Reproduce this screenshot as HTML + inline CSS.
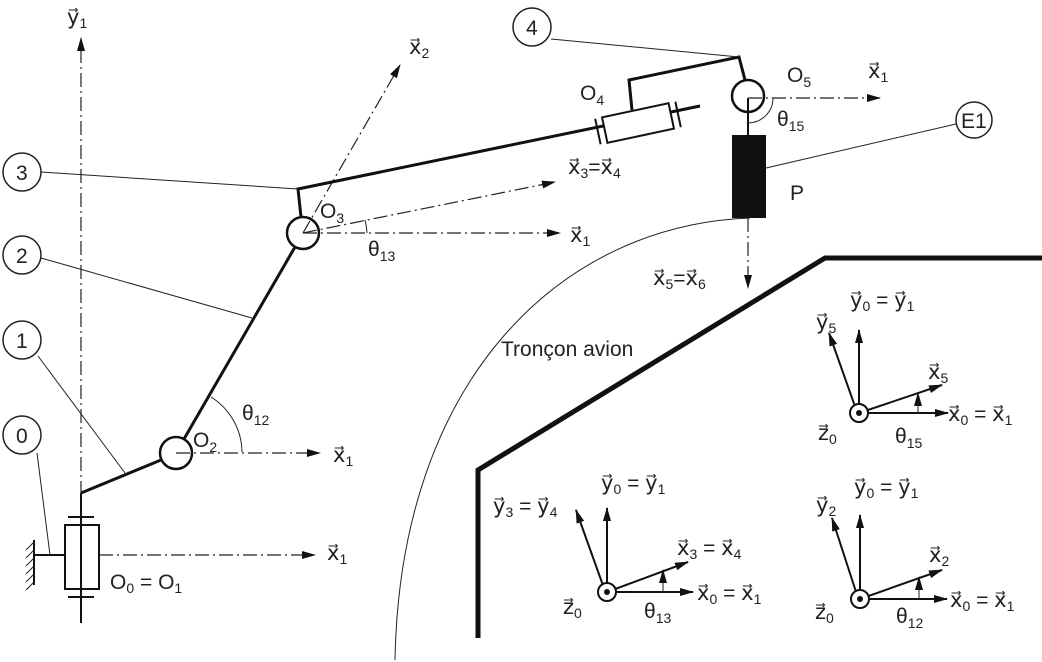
<!DOCTYPE html>
<html><head><meta charset="utf-8"><style>
html,body{margin:0;padding:0;background:#fff;}
svg{display:block;}
text{font-family:"Liberation Sans","DejaVu Sans",sans-serif;font-size:21px;fill:#222;}
.s{font-size:14px;}
.thin{stroke:#222;stroke-width:1;fill:none;}
.thick{stroke:#111;stroke-width:3;fill:none;}
.med{stroke:#111;stroke-width:2;fill:none;}
.dd{stroke:#222;stroke-width:1.2;fill:none;stroke-dasharray:14 4 2 4;}
</style></head><body>
<svg width="1042" height="662" viewBox="0 0 1042 662">
<defs>
<marker id="ar" markerWidth="14" markerHeight="8" refX="13" refY="4" orient="auto" markerUnits="userSpaceOnUse"><path d="M0,0 L14,4 L0,8 Z" fill="#111"/></marker>
</defs>

<g>
<line class="dd" x1="81" y1="495" x2="81" y2="38" marker-end="url(#ar)"/>
<text x="67" y="24">y⃗<tspan class="s" dy="4">1</tspan></text>
</g>

<g>
<rect x="65" y="525" width="34" height="64" class="med"/>
<line class="med" x1="81" y1="493" x2="81" y2="623"/>
<line class="med" x1="68" y1="517" x2="94" y2="517"/>
<line class="med" x1="68" y1="597" x2="94" y2="597"/>
<line class="med" x1="35" y1="555" x2="65" y2="555"/>
<line class="med" x1="34" y1="540" x2="34" y2="585"/>
<path class="thin" d="M34,542 l-8,8 M34,550 l-8,8 M34,558 l-8,8 M34,566 l-8,8 M34,574 l-8,8 M34,582 l-8,8" stroke-width="2"/>
<line class="dd" x1="99" y1="555" x2="315" y2="555" marker-end="url(#ar)"/>
<text x="327" y="560">x⃗<tspan class="s" dy="4">1</tspan></text>
<text x="110" y="589">O<tspan class="s" dy="4">0</tspan><tspan dy="-4"> = O</tspan><tspan class="s" dy="4">1</tspan></text>
</g>

<g>
<polyline class="thick" points="81,493 161,460"/>
<circle cx="176" cy="453" r="16" fill="#fff" stroke="#111" stroke-width="2.5"/>
<line class="dd" x1="176" y1="453" x2="320" y2="453" marker-end="url(#ar)"/>
<text x="333" y="462">x⃗<tspan class="s" dy="4">1</tspan></text>
<text x="193" y="447">O<tspan class="s" dy="5">2</tspan></text>
<path class="thin" d="M242,452 A66,66 0 0 0 211,397"/>
<text x="242" y="420">θ<tspan class="s" dy="5">12</tspan></text>
</g>

<g>
<line class="thick" x1="184" y1="439" x2="295" y2="247"/>
<circle cx="303" cy="233" r="16" fill="#fff" stroke="#111" stroke-width="2.5"/>
<line class="dd" x1="303" y1="233" x2="560" y2="233" marker-end="url(#ar)"/>
<text x="570" y="242">x⃗<tspan class="s" dy="4">1</tspan></text>
<line class="dd" x1="303" y1="233" x2="555" y2="182" marker-end="url(#ar)"/>
<line class="dd" x1="303" y1="233" x2="400" y2="65" marker-end="url(#ar)"/>
<text x="409" y="54">x⃗<tspan class="s" dy="4">2</tspan></text>
<text x="320" y="218">O<tspan class="s" dy="5">3</tspan></text>
<path class="thin" d="M367,233 A64,64 0 0 0 365,220"/>
<text x="368" y="256">θ<tspan class="s" dy="5">13</tspan></text>
</g>

<g>
<polyline class="thick" points="301,217 298,189 700,106"/>
<text x="568" y="174">x⃗<tspan class="s" dy="4">3</tspan><tspan dy="-4">=x⃗</tspan><tspan class="s" dy="4">4</tspan></text>
</g>

<g>
<g transform="translate(638,123) rotate(-12)">
<rect x="-34" y="-13" width="68" height="26" fill="#fff" stroke="#111" stroke-width="2"/>
<line class="med" x1="-41" y1="-13" x2="-41" y2="13"/>
<line class="med" x1="41" y1="-13" x2="41" y2="13"/>
</g>
<polyline class="thick" points="632,110 629,80 739,57 745,80"/>
<text x="580" y="100">O<tspan class="s" dy="5">4</tspan></text>
</g>

<g>
<circle cx="748" cy="96" r="16" fill="#fff" stroke="#111" stroke-width="2.5"/>
<line class="med" x1="748" y1="98" x2="748" y2="135"/>
<line class="dd" x1="748" y1="98" x2="880" y2="98" marker-end="url(#ar)"/>
<text x="868" y="78">x⃗<tspan class="s" dy="4">1</tspan></text>
<text x="787" y="82">O<tspan class="s" dy="5">5</tspan></text>
<path class="thin" d="M773,98 A25,25 0 0 1 748,123"/>
<text x="777" y="126">θ<tspan class="s" dy="5">15</tspan></text>
<rect x="732" y="135" width="34" height="83" fill="#111"/>
<text x="790" y="200">P</text>
<line class="dd" x1="748" y1="218" x2="748" y2="288" marker-end="url(#ar)"/>
<text x="653" y="285">x⃗<tspan class="s" dy="4">5</tspan><tspan dy="-4">=x⃗</tspan><tspan class="s" dy="4">6</tspan></text>
</g>

<g>
<circle cx="22" cy="172" r="19" fill="#fff" stroke="#222" stroke-width="1.5"/><text x="16" y="180">3</text>
<line class="thin" x1="41" y1="172" x2="298" y2="189"/>
<circle cx="22" cy="255" r="19" fill="#fff" stroke="#222" stroke-width="1.5"/><text x="16" y="263">2</text>
<line class="thin" x1="41" y1="258" x2="252" y2="318"/>
<circle cx="22" cy="340" r="19" fill="#fff" stroke="#222" stroke-width="1.5"/><text x="16" y="348">1</text>
<line class="thin" x1="38" y1="356" x2="125" y2="473"/>
<circle cx="22" cy="435" r="19" fill="#fff" stroke="#222" stroke-width="1.5"/><text x="16" y="443">0</text>
<line class="thin" x1="37" y1="453" x2="50" y2="555"/>
<circle cx="532" cy="27" r="19" fill="#fff" stroke="#222" stroke-width="1.5"/><text x="526" y="35">4</text>
<line class="thin" x1="551" y1="39" x2="739" y2="57"/>
<circle cx="974" cy="120" r="18" fill="#fff" stroke="#222" stroke-width="1.5"/><text x="961" y="128">E1</text>
<line class="thin" x1="766" y1="168" x2="956" y2="124"/>
</g>

<g>
<path class="thin" d="M750,218 C560,225 400,380 395,660"/>
<text x="501" y="356">Tronçon avion</text>
<polyline points="1042,258 825,258 478,470 478,638" fill="none" stroke="#111" stroke-width="5"/>
</g>

<g>
<line class="med" x1="859" y1="413" x2="859" y2="330" marker-end="url(#ar)"/>
<line class="med" x1="857" y1="412" x2="829" y2="333" marker-end="url(#ar)"/>
<line class="med" x1="859" y1="413" x2="942" y2="385" marker-end="url(#ar)"/>
<line class="med" x1="859" y1="413" x2="948" y2="413" marker-end="url(#ar)"/>
<line class="thin" x1="918" y1="413" x2="918" y2="393" marker-end="url(#ar)"/>
<circle cx="859" cy="413" r="9" fill="#fff" stroke="#111" stroke-width="2"/><circle cx="859" cy="413" r="3" fill="#111"/>
<text x="850" y="307">y⃗<tspan class="s" dy="4">0</tspan><tspan dy="-4"> = y⃗</tspan><tspan class="s" dy="4">1</tspan></text>
<text x="816" y="329">y⃗<tspan class="s" dy="4">5</tspan></text>
<text x="928" y="379">x⃗<tspan class="s" dy="4">5</tspan></text>
<text x="948" y="421">x⃗<tspan class="s" dy="4">0</tspan><tspan dy="-4"> = x⃗</tspan><tspan class="s" dy="4">1</tspan></text>
<text x="818" y="440">z⃗<tspan class="s" dy="4">0</tspan></text>
<text x="895" y="443">θ<tspan class="s" dy="5">15</tspan></text>
</g>

<g>
<line class="med" x1="607" y1="592" x2="607" y2="508" marker-end="url(#ar)"/>
<line class="med" x1="605" y1="591" x2="576" y2="510" marker-end="url(#ar)"/>
<line class="med" x1="607" y1="592" x2="688" y2="562" marker-end="url(#ar)"/>
<line class="med" x1="607" y1="592" x2="693" y2="592" marker-end="url(#ar)"/>
<line class="thin" x1="663" y1="592" x2="663" y2="570" marker-end="url(#ar)"/>
<circle cx="607" cy="592" r="9" fill="#fff" stroke="#111" stroke-width="2"/><circle cx="607" cy="592" r="3" fill="#111"/>
<text x="493" y="513">y⃗<tspan class="s" dy="4">3</tspan><tspan dy="-4"> = y⃗</tspan><tspan class="s" dy="4">4</tspan></text>
<text x="601" y="490">y⃗<tspan class="s" dy="4">0</tspan><tspan dy="-4"> = y⃗</tspan><tspan class="s" dy="4">1</tspan></text>
<text x="677" y="555">x⃗<tspan class="s" dy="4">3</tspan><tspan dy="-4"> = x⃗</tspan><tspan class="s" dy="4">4</tspan></text>
<text x="697" y="600">x⃗<tspan class="s" dy="4">0</tspan><tspan dy="-4"> = x⃗</tspan><tspan class="s" dy="4">1</tspan></text>
<text x="563" y="614">z⃗<tspan class="s" dy="4">0</tspan></text>
<text x="644" y="618">θ<tspan class="s" dy="5">13</tspan></text>
</g>

<g>
<line class="med" x1="860" y1="599" x2="860" y2="515" marker-end="url(#ar)"/>
<line class="med" x1="858" y1="598" x2="832" y2="518" marker-end="url(#ar)"/>
<line class="med" x1="860" y1="599" x2="942" y2="570" marker-end="url(#ar)"/>
<line class="med" x1="860" y1="599" x2="947" y2="599" marker-end="url(#ar)"/>
<line class="thin" x1="919" y1="599" x2="919" y2="577" marker-end="url(#ar)"/>
<circle cx="860" cy="599" r="9" fill="#fff" stroke="#111" stroke-width="2"/><circle cx="860" cy="599" r="3" fill="#111"/>
<text x="816" y="512">y⃗<tspan class="s" dy="4">2</tspan></text>
<text x="854" y="494">y⃗<tspan class="s" dy="4">0</tspan><tspan dy="-4"> = y⃗</tspan><tspan class="s" dy="4">1</tspan></text>
<text x="929" y="562">x⃗<tspan class="s" dy="4">2</tspan></text>
<text x="950" y="607">x⃗<tspan class="s" dy="4">0</tspan><tspan dy="-4"> = x⃗</tspan><tspan class="s" dy="4">1</tspan></text>
<text x="815" y="619">z⃗<tspan class="s" dy="4">0</tspan></text>
<text x="896" y="623">θ<tspan class="s" dy="5">12</tspan></text>
</g>
</svg>
</body></html>
